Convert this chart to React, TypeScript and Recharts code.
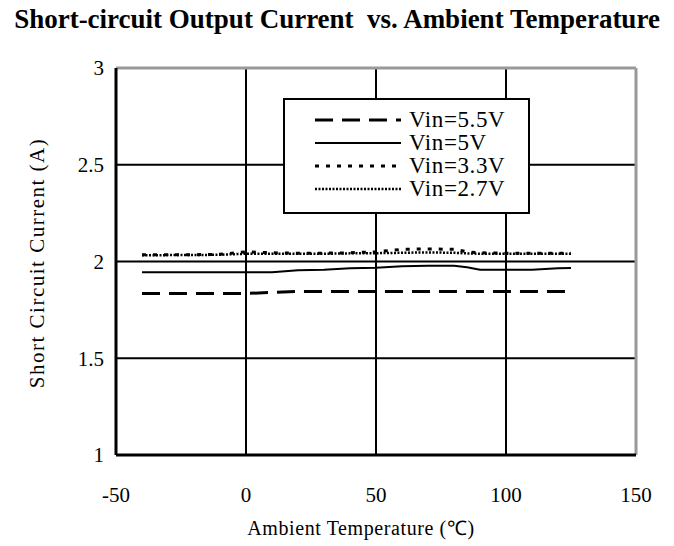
import React from "react";
import {
  LineChart,
  Line,
  XAxis,
  YAxis,
  CartesianGrid,
  Label,
  ReferenceLine
} from "recharts";

const temps = [-40, -30, -20, -10, 0, 10, 20, 30, 40, 50, 60, 70, 80, 85, 90, 100, 110, 120, 125];

const vin55 = [1.835, 1.835, 1.835, 1.835, 1.835, 1.84, 1.845, 1.845, 1.845, 1.845, 1.845, 1.845, 1.845, 1.845, 1.845, 1.845, 1.845, 1.845, 1.845];
const vin5 = [1.945, 1.945, 1.945, 1.945, 1.945, 1.945, 1.955, 1.958, 1.965, 1.968, 1.975, 1.978, 1.978, 1.97, 1.958, 1.957, 1.957, 1.965, 1.966];
const vin33 = [2.035, 2.035, 2.035, 2.037, 2.05, 2.045, 2.043, 2.043, 2.045, 2.05, 2.063, 2.065, 2.063, 2.05, 2.045, 2.043, 2.043, 2.043, 2.043];
const vin27 = [2.032, 2.033, 2.033, 2.035, 2.04, 2.04, 2.04, 2.04, 2.042, 2.043, 2.045, 2.047, 2.045, 2.042, 2.04, 2.04, 2.04, 2.04, 2.04];

const xTicks = [-50, 0, 50, 100, 150];
const yTicks = [1, 1.5, 2, 2.5, 3];

const series = [
  { key: "v55", name: "Vin=5.5V", dash: "18 9", width: 3 },
  { key: "v5", name: "Vin=5V", dash: undefined, width: 2 },
  { key: "v33", name: "Vin=3.3V", dash: "4 7", width: 3 },
  { key: "v27", name: "Vin=2.7V", dash: "2 1.5", width: 2.5 }
];

const data = temps.map((t, i) => ({
  t,
  v55: vin55[i],
  v5: vin5[i],
  v33: vin33[i],
  v27: vin27[i]
}));

const font = "'Liberation Serif', 'Times New Roman', serif";

// legend sits on top of the grid with a white fill, like the original
const LegendBox = () => (
  <div
    style={{
      position: "absolute",
      left: 283,
      top: 98,
      boxSizing: "border-box",
      width: 247,
      height: 116,
      border: "2px solid #000",
      background: "#fff",
      padding: "8px 0 0 30px",
      fontFamily: font,
      fontSize: 23,
      letterSpacing: 0.6
    }}
  >
    {series.map((s) => (
      <div key={s.key} style={{ display: "flex", alignItems: "center", height: 23 }}>
        <svg width={86} height={10} style={{ marginRight: 8 }}>
          <line x1={0} y1={5} x2={86} y2={5} stroke="#000" strokeWidth={s.width} strokeDasharray={s.dash} />
        </svg>
        <span>{s.name}</span>
      </div>
    ))}
  </div>
);

export default function App() {
  return (
    <div style={{ position: "absolute", left: 0, top: 0, width: 674, height: 546, background: "#fff" }}>
      <div
        style={{
          position: "absolute",
          left: 0,
          top: 4,
          width: 674,
          textAlign: "center",
          whiteSpace: "pre",
          fontFamily: font,
          fontWeight: "bold",
          fontSize: 27
        }}
      >
        {"Short-circuit Output Current  vs. Ambient Temperature"}
      </div>
      <div style={{ position: "absolute", left: 0, top: 0 }}>
        <LineChart
          width={674}
          height={546}
          data={data}
          margin={{ top: 68, right: 38, left: 0, bottom: 0 }}
        >
          <CartesianGrid stroke="#000" strokeWidth={2} horizontalValues={yTicks} verticalValues={xTicks} />
          <ReferenceLine y={3} stroke="#999" strokeWidth={3} />
          <ReferenceLine x={150} stroke="#999" strokeWidth={3} />
          <XAxis
            dataKey="t"
            type="number"
            domain={[-50, 150]}
            ticks={xTicks}
            height={91}
            tickLine={false}
            tickMargin={26}
            axisLine={{ stroke: "#000", strokeWidth: 3 }}
            tick={{ fill: "#000", fontSize: 21, fontFamily: font }}
          >
            <Label
              content={() => (
                <text
                  x={361}
                  y={528}
                  textAnchor="middle"
                  dominantBaseline="central"
                  fontFamily={font}
                  fontSize={20}
                  letterSpacing={0.6}
                  fill="#000"
                >
                  Ambient Temperature (℃)
                </text>
              )}
            />
          </XAxis>
          <YAxis
            type="number"
            domain={[1, 3]}
            ticks={yTicks}
            width={116}
            tickLine={false}
            tickMargin={6}
            axisLine={{ stroke: "#000", strokeWidth: 3 }}
            tick={{ fill: "#000", fontSize: 21, fontFamily: font }}
          >
            <Label
              content={() => (
                <text
                  x={37}
                  y={263}
                  textAnchor="middle"
                  dominantBaseline="central"
                  transform="rotate(-90 37 263)"
                  fontFamily={font}
                  fontSize={21}
                  letterSpacing={1.5}
                  fill="#000"
                >
                  Short Circuit Current (A)
                </text>
              )}
            />
          </YAxis>
          {series.map((s) => (
            <Line
              key={s.key}
              dataKey={s.key}
              name={s.name}
              type="linear"
              stroke="#000"
              strokeWidth={s.width}
              strokeDasharray={s.dash}
              dot={false}
              activeDot={false}
              isAnimationActive={false}
            />
          ))}
        </LineChart>
      </div>
      <LegendBox />
    </div>
  );
}
